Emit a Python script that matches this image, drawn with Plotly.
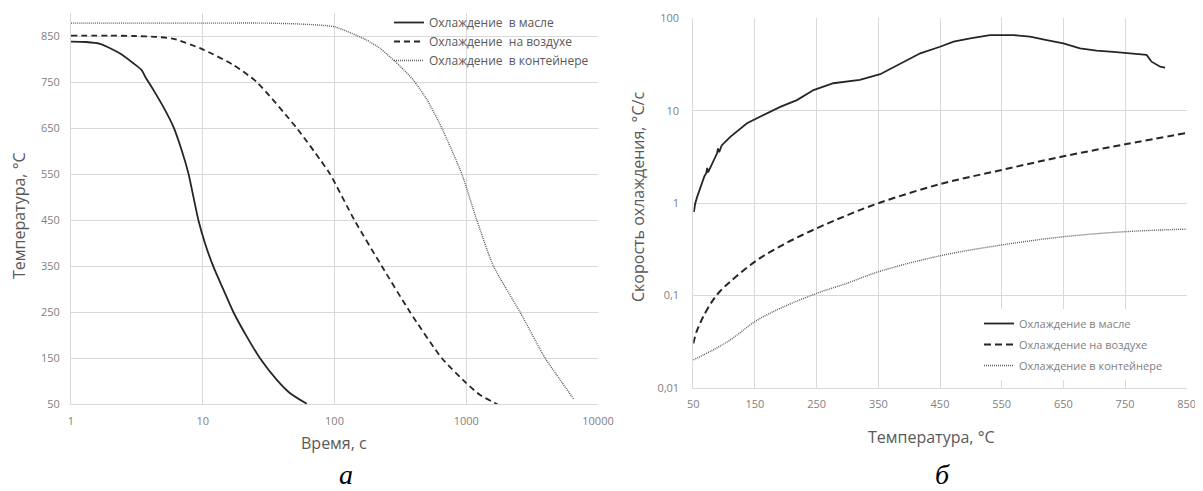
import plotly.graph_objects as go

# ---------- data: panel a (time, s  vs  temperature, °C) ----------
names = ["Охлаждение  в масле", "Охлаждение  на воздухе", "Охлаждение  в контейнере"]
names2 = ["Охлаждение в масле", "Охлаждение на воздухе", "Охлаждение в контейнере"]

oil_t = [1, 1.3, 1.66, 2, 2.36, 2.97, 3.44, 3.65, 4.22, 5.02, 5.98, 6.92, 7.78, 8.49, 9.27, 10.4, 12.0,
         14.3, 17.1, 21.6, 27.2, 36.5, 46, 61.6]
oil_T = [838, 837, 833, 823, 812, 791, 776, 762, 733, 696, 653, 602, 552, 501, 450, 400, 350,
         300, 250, 197, 150, 103, 74, 51]

air_t = [1, 2, 3, 4.5, 6, 10, 17.1, 25.7, 51.7, 78, 92.6, 141.7, 228.6, 375, 653, 1000, 1276, 1726]
air_T = [851, 851, 850, 848, 844, 821, 787, 750, 650, 581, 550, 450, 350, 250, 150, 96, 70, 50]

box_t = [1, 10, 30, 55, 100, 176, 222, 316, 395, 505, 653, 926, 1203, 1610, 2566, 3973, 5166, 6514]
box_T = [878, 878, 878, 876, 870, 841, 823, 784, 755, 711, 650, 550, 450, 350, 250, 150, 103, 62]

# ---------- data: panel б (temperature, °C vs cooling rate, °C/s) ----------
oil_T2 = [51, 53, 56, 60, 64, 68, 71, 72.5, 74, 79, 85, 88.5, 90, 92, 96, 103, 110, 137, 169, 191,
          218, 245, 277, 320, 353, 385, 418, 450, 472, 499, 531, 569, 596, 623, 650, 677, 704, 731,
          758, 785, 793, 807, 815]
oil_v = [0.8, 0.98, 1.15, 1.4, 1.65, 1.95, 2.1, 2.4, 2.15, 2.55, 3.1, 3.45, 3.9, 3.55, 4.2, 4.7, 5.2,
         7.3, 9.4, 11.0, 13.0, 16.7, 19.8, 21.5, 24.8, 32.0, 41.8, 49.2, 55.8, 60.7, 65.9, 65.9, 63.3,
         58.2, 53.6, 47.3, 44.6, 43.2, 41.8, 40.1, 33.9, 29.9, 29.2]

air_T2 = [50, 55, 60, 66, 80, 93, 110, 153, 200, 250, 300, 350, 450, 550, 650, 750, 850]
air_v = [0.030, 0.040, 0.048, 0.0587, 0.085, 0.11, 0.141, 0.24, 0.366, 0.532, 0.74, 0.994, 1.6, 2.28, 3.2, 4.32, 5.73]

box_T2 = [50, 82, 110, 150, 191, 250, 299, 350, 450, 550, 650, 750, 850]
box_v = [0.020, 0.0256, 0.0329, 0.052, 0.0724, 0.105, 0.135, 0.180, 0.268, 0.351, 0.431, 0.489, 0.522]

# ---------- ticks ----------
xa_ticks = [1, 10, 100, 1000, 10000]
xa_text = ["1", "10", "100", "1000", "10000"]
ya_ticks = [50, 150, 250, 350, 450, 550, 650, 750, 850]
xb_ticks = [50, 150, 250, 350, 450, 550, 650, 750, 850]
yb_ticks = [0.01, 0.1, 1, 10, 100]
yb_text = ["0,01", "0,1", "1", "10", "100"]

# the page body has an 8px margin, so the figure is drawn 8px smaller and
# all screen positions below are converted with that offset
OFF = 8
W, H = 1203 - OFF, 491 - OFF
DARK = "#262626"
DOT = "#5e5e5e"
GRID = "#d9d9d9"
TICK = "#7f7f7f"
TITLE = "#595959"

fig = go.Figure()

styles = [
    dict(color=DARK, width=1.8, dash="solid"),
    dict(color=DARK, width=1.8, dash="6px,4px"),
    dict(color=DOT, width=1.4, dash="1px,1px"),
]

for i, (x, y) in enumerate([(oil_t, oil_T), (air_t, air_T), (box_t, box_T)]):
    fig.add_trace(go.Scatter(x=x, y=y, mode="lines", name=names[i],
                             line=dict(**styles[i], shape="spline", smoothing=0.6),
                             xaxis="x", yaxis="y", legend="legend", hoverinfo="skip"))

styles2 = [
    dict(color=DARK, width=1.8, dash="solid"),
    dict(color=DARK, width=2.0, dash="7px,4px"),
    dict(color=DOT, width=1.4, dash="1px,1px"),
]
shapes2 = ["linear", "spline", "spline"]
for i, (x, y) in enumerate([(oil_T2, oil_v), (air_T2, air_v), (box_T2, box_v)]):
    fig.add_trace(go.Scatter(x=x, y=y, mode="lines", name=names2[i],
                             line=dict(**styles2[i], shape=shapes2[i]),
                             xaxis="x2", yaxis="y2", legend="legend2", legendgroup=f"g{i}",
                             hoverinfo="skip"))


def px_x(p):
    return (p - OFF) / W


def px_y(p):
    return (H - (p - OFF)) / H


axis_common = dict(showgrid=True, gridcolor=GRID, gridwidth=1, showline=True, linecolor=GRID, linewidth=1,
                   zeroline=False, ticks="", automargin=False,
                   tickfont=dict(family="Open Sans", size=11, color=TICK))

fig.update_layout(
    width=W, height=H,
    paper_bgcolor="white", plot_bgcolor="white",
    margin=dict(l=0, r=0, t=0, b=0, autoexpand=False),
    showlegend=True,
    xaxis=dict(type="log", range=[0, 4], domain=[px_x(71), px_x(598)], tickvals=xa_ticks, ticktext=xa_text,
               anchor="y", ticklabelstandoff=6, **axis_common),
    yaxis=dict(range=[50, 900], domain=[px_y(404.3), px_y(13)], tickvals=ya_ticks,
               anchor="x", ticklabelstandoff=8, **axis_common),
    xaxis2=dict(range=[50, 850], domain=[px_x(693.3), px_x(1186.7)], tickvals=xb_ticks,
                anchor="y2", ticklabelstandoff=6, **axis_common),
    yaxis2=dict(type="log", range=[-2, 2], domain=[px_y(387.7), px_y(18.3)], tickvals=yb_ticks, ticktext=yb_text,
                anchor="x2", ticklabelstandoff=11, **axis_common),
    legend=dict(x=px_x(389), y=px_y(8), xanchor="left", yanchor="top", bgcolor="rgba(255,255,255,0)",
                font=dict(family="Open Sans", size=12, color=TITLE), borderwidth=0),
    legend2=dict(x=px_x(979), y=px_y(309), xanchor="left", yanchor="top", bgcolor="white",
                 font=dict(family="Open Sans", size=11, color=TICK), borderwidth=0, tracegroupgap=2),
)

# white panel behind the first legend: hides gridlines but not the curves
fig.add_shape(type="rect", xref="paper", yref="paper", x0=px_x(400), x1=px_x(598), y0=px_y(68), y1=px_y(13),
              fillcolor="white", line=dict(width=0), layer="between")

title_font = dict(family="Open Sans", size=16, color=TITLE)
ann = [
    dict(text="Температура, °С", x=px_x(19), y=px_y(216), textangle=-90),
    dict(text="Время, с", x=px_x(334), y=px_y(443)),
    dict(text="Скорость охлаждения, °С/с", x=px_x(638), y=px_y(197), textangle=-90),
    dict(text="Температура, °С", x=px_x(932), y=px_y(437)),
]
for a in ann:
    fig.add_annotation(xref="paper", yref="paper", showarrow=False, xanchor="center", yanchor="middle",
                       font=title_font, borderpad=0, **a)

cap_font = dict(family="Liberation Serif", size=28, color="black", style="italic")
fig.add_annotation(text="а", x=px_x(346), y=0, xref="paper", yref="paper", showarrow=False,
                   xanchor="center", yanchor="bottom", font=cap_font, borderpad=0)
fig.add_annotation(text="б", x=px_x(942), y=0, xref="paper", yref="paper", showarrow=False,
                   xanchor="center", yanchor="bottom", font=cap_font, borderpad=0)

fig.write_html("out.html")
